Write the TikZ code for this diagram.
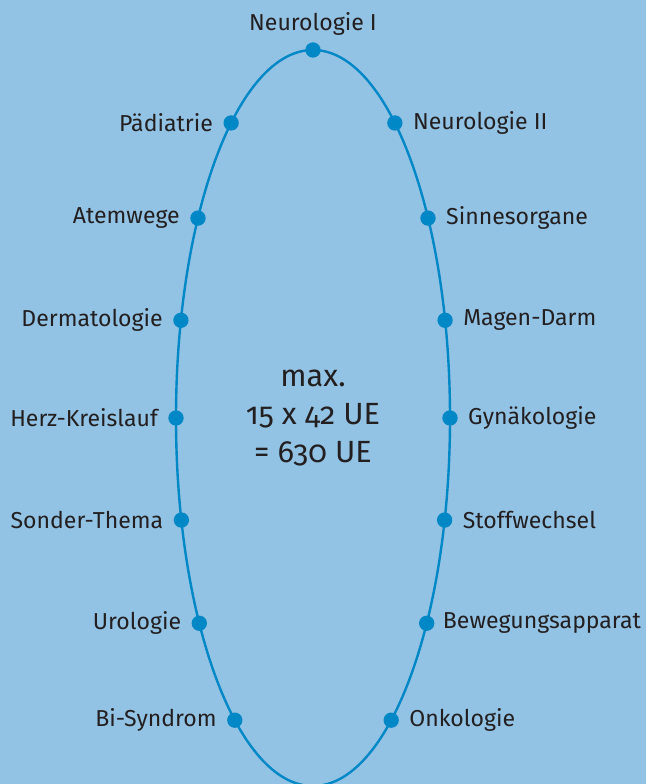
\documentclass[tikz,border=0pt]{standalone}
\usepackage{fontspec}
\setmainfont{Fira Sans}
\newfontfamily\numfont[Numbers=OldStyle]{Fira Sans}
\usetikzlibrary{positioning}
\definecolor{bgblue}{RGB}{146,195,228}
\definecolor{ringblue}{RGB}{0,136,198}
\definecolor{txtgray}{RGB}{35,31,32}
\begin{document}
\begin{tikzpicture}[
  x=0.75pt, y=0.75pt,
  node distance=7.5pt,
  every node/.style={font=\fontsize{17.3}{20}\selectfont, text=txtgray},
  dot/.style={circle, fill=ringblue, inner sep=0pt, minimum size=11.5pt},
  lbl/.style={inner sep=0pt},
  ring/.style={draw=ringblue, line width=1.8pt}
]
  \def\rx{137}
  \def\ry{368}
  % background and page size
  \fill[bgblue] (-313,-366) rectangle (333,418);
  \useasboundingbox (-313,-366) rectangle (333,418);
  \begin{scope}
    \clip (-313,-366) rectangle (333,418);
    \draw[ring] (0,0) ellipse [x radius=\rx, y radius=\ry];
  \end{scope}
  % points on the ring
  \node[dot] (nI)   at ({\rx*cos(90)},{\ry*sin(90)}) {};
  \node[dot] (pae)  at ({\rx*cos(126.7)},{\ry*sin(126.7)}) {};
  \node[dot] (nII)  at ({\rx*cos(53.3)},{\ry*sin(53.3)}) {};
  \node[dot] (atem) at ({\rx*cos(147.1)},{\ry*sin(147.1)}) {};
  \node[dot] (sinn) at ({\rx*cos(32.9)},{\ry*sin(32.9)}) {};
  \node[dot] (derm) at ({\rx*cos(164.6)},{\ry*sin(164.6)}) {};
  \node[dot] (mag)  at ({\rx*cos(15.4)},{\ry*sin(15.4)}) {};
  \node[dot] (herz) at ({\rx*cos(180)},{\ry*sin(180)}) {};
  \node[dot] (gyn)  at ({\rx*cos(0)},{\ry*sin(0)}) {};
  \node[dot] (sond) at ({\rx*cos(196.1)},{\ry*sin(196.1)}) {};
  \node[dot] (stof) at ({\rx*cos(-16.1)},{\ry*sin(-16.1)}) {};
  \node[dot] (uro)  at ({\rx*cos(213.9)},{\ry*sin(213.9)}) {};
  \node[dot] (bew)  at ({\rx*cos(-33.9)},{\ry*sin(-33.9)}) {};
  \node[dot] (bi)   at ({\rx*cos(235.2)},{\ry*sin(235.2)}) {};
  \node[dot] (onk)  at ({\rx*cos(-55.2)},{\ry*sin(-55.2)}) {};
  % labels
  \node[lbl, above=5pt of nI] (nI-l) {Neurologie I};
  \node[lbl, left=of pae] (pae-l) {Pädiatrie};
  \node[lbl, right=of nII] (nII-l) {Neurologie II};
  \node[lbl, left=of atem] (atem-l) {Atemwege};
  \node[lbl, right=of sinn] (sinn-l) {Sinnesorgane};
  \node[lbl, left=of derm] (derm-l) {Dermatologie};
  \node[lbl, right=of mag] (mag-l) {Magen-Darm};
  \node[lbl, left=of herz] (herz-l) {Herz-Kreislauf};
  \node[lbl, right=of gyn] (gyn-l) {Gynäkologie};
  \node[lbl, left=of sond] (sond-l) {Sonder-Thema};
  \node[lbl, right=of stof] (stof-l) {Stoffwechsel};
  \node[lbl, left=of uro] (uro-l) {Urologie};
  \node[lbl, right=6pt of bew] (bew-l) {Bewegungsapparat};
  \node[lbl, left=of bi] (bi-l) {Bi-Syndrom};
  \node[lbl, right=of onk] (onk-l) {Onkologie};
  % centre text
  \node[align=center, font=\numfont\fontsize{23}{28.5}\selectfont] (total) at (0,0)
    {max.\\15 x 42 UE\\= 630 UE};
\end{tikzpicture}
\end{document}
